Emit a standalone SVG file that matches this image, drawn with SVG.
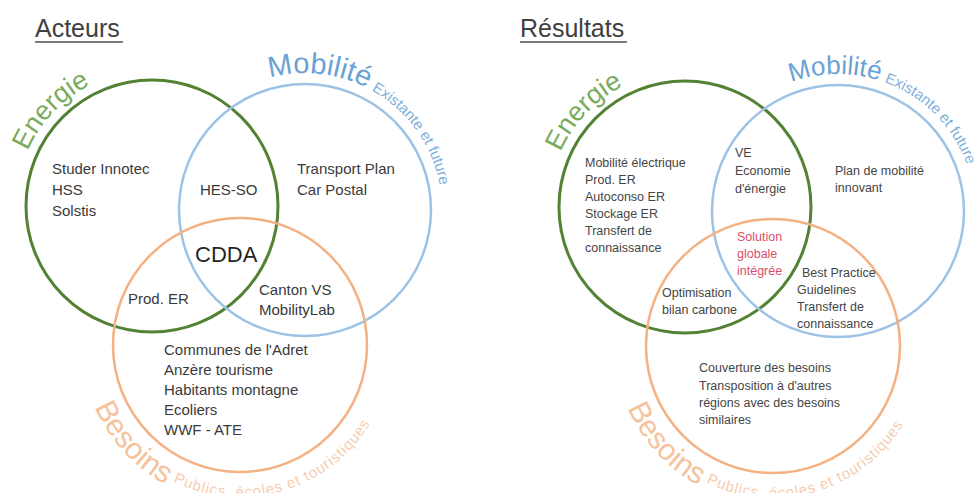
<svg xmlns="http://www.w3.org/2000/svg" width="976" height="493" viewBox="0 0 976 493">
<style>
text{font-family:"Liberation Sans",Arial,sans-serif;}
.title{font-size:25px;fill:#404040;}
.uline{stroke:#505050;stroke-width:1.5;}
.cg{fill:none;stroke:#548235;stroke-width:3;}
.cb{fill:none;stroke:#9cc2e5;stroke-width:2.5;}
.co{fill:none;stroke:#f4b183;stroke-width:2.5;}
.lg{fill:#7aab5c;font-size:27px;}
.lb{fill:#6aa2d4;font-size:29px;}
.lbs{fill:#7fb0da;font-size:15px;}
.lo{fill:#f6c29c;font-size:30px;}
.los{fill:#f7cdb0;font-size:15px;letter-spacing:1.2px;}
.t1{font-size:15px;fill:#3a3a3a;}
.t2{font-size:12.5px;fill:#454545;}
.red{fill:#d9506a;}
.cdda{font-size:22px;fill:#262626;}
</style>
<defs>
<path id="pE" d="M24.2,159.5 A136,136 0 0,1 220,88.2"/>
<path id="pM" d="M236.5,91.4 A137,137 0 0,1 439.9,233.8"/>
<path id="pB" d="M84.4,372.4 A158,158 0 0,0 395.6,372.4"/>
</defs>

<g id="acteurs">
  <g id="acteurs-title">
    <text class="title" x="35" y="37">Acteurs</text>
    <line class="uline" x1="35" y1="42" x2="123" y2="42"/>
  </g>
  <g id="a-energie">
    <circle class="cg" cx="152" cy="206" r="126"/>
    <text class="lg"><textPath href="#pE" startOffset="9">Energie</textPath></text>
  </g>
  <g id="a-mobilite">
    <circle class="cb" cx="305" cy="210" r="126"/>
    <text class="lb"><textPath href="#pM" startOffset="36">Mobilité<tspan class="lbs" dx="5">Existante et future</tspan></textPath></text>
  </g>
  <g id="a-besoins">
    <circle class="co" cx="240" cy="345" r="127"/>
    <text class="lo"><textPath href="#pB" startOffset="36">Besoins<tspan class="los" dx="6" dy="-6">Publics, écoles et touristiques</tspan></textPath></text>
  </g>
  <g id="a-energie-only">
    <text class="t1" x="52" y="174">Studer Innotec</text>
    <text class="t1" x="52" y="195">HSS</text>
    <text class="t1" x="52" y="216">Solstis</text>
  </g>
  <g id="a-energie-mobilite">
    <text class="t1" x="200" y="195">HES-SO</text>
  </g>
  <g id="a-mobilite-only">
    <text class="t1" x="297" y="174">Transport Plan</text>
    <text class="t1" x="297" y="195">Car Postal</text>
  </g>
  <g id="a-centre">
    <text class="cdda" x="195" y="262">CDDA</text>
  </g>
  <g id="a-energie-besoins">
    <text class="t1" x="128" y="304">Prod. ER</text>
  </g>
  <g id="a-mobilite-besoins">
    <text class="t1" x="259" y="295">Canton VS</text>
    <text class="t1" x="259" y="315">MobilityLab</text>
  </g>
  <g id="a-besoins-only">
    <text class="t1" x="164" y="355">Communes de l'Adret</text>
    <text class="t1" x="164" y="375">Anzère tourisme</text>
    <text class="t1" x="164" y="395">Habitants montagne</text>
    <text class="t1" x="164" y="415">Ecoliers</text>
    <text class="t1" x="164" y="435">WWF - ATE</text>
  </g>
</g>

<g id="resultats">
  <g id="resultats-title">
    <text class="title" x="520" y="37">Résultats</text>
    <line class="uline" x1="520" y1="42" x2="627" y2="42"/>
  </g>
  <g transform="translate(533,1)">
    <g id="r-energie">
      <circle class="cg" cx="152" cy="206" r="126"/>
      <text class="lg"><textPath href="#pE" startOffset="9">Energie</textPath></text>
    </g>
    <g id="r-mobilite">
      <circle class="cb" cx="305" cy="210" r="126"/>
      <text class="lb" style="font-size:26px"><textPath href="#pM" startOffset="24">Mobilité<tspan class="lbs" dx="5">Existante et future</tspan></textPath></text>
    </g>
    <g id="r-besoins">
      <circle class="co" cx="240" cy="345" r="127"/>
      <text class="lo"><textPath href="#pB" startOffset="36">Besoins<tspan class="los" dx="6" dy="-6">Publics, écoles et touristiques</tspan></textPath></text>
    </g>
  </g>
  <g id="r-energie-only">
    <text class="t2" x="585" y="167">Mobilité électrique</text>
    <text class="t2" x="585" y="184">Prod. ER</text>
    <text class="t2" x="585" y="201">Autoconso ER</text>
    <text class="t2" x="585" y="218">Stockage ER</text>
    <text class="t2" x="585" y="235">Transfert de</text>
    <text class="t2" x="585" y="252">connaissance</text>
  </g>
  <g id="r-energie-mobilite">
    <text class="t2" x="735" y="157">VE</text>
    <text class="t2" x="735" y="175">Economie</text>
    <text class="t2" x="735" y="193">d'énergie</text>
  </g>
  <g id="r-mobilite-only">
    <text class="t2" x="835" y="175">Plan de mobilité</text>
    <text class="t2" x="835" y="192">innovant</text>
  </g>
  <g id="r-centre">
    <text class="t2 red" x="737" y="241">Solution</text>
    <text class="t2 red" x="737" y="258">globale</text>
    <text class="t2 red" x="737" y="275">intégrée</text>
  </g>
  <g id="r-energie-besoins">
    <text class="t2" x="662" y="297">Optimisation</text>
    <text class="t2" x="662" y="314">bilan carbone</text>
  </g>
  <g id="r-mobilite-besoins">
    <text class="t2" x="802" y="277">Best Practice</text>
    <text class="t2" x="797" y="294">Guidelines</text>
    <text class="t2" x="797" y="311">Transfert de</text>
    <text class="t2" x="797" y="328">connaissance</text>
  </g>
  <g id="r-besoins-only">
    <text class="t2" x="699" y="372">Couverture des besoins</text>
    <text class="t2" x="699" y="390">Transposition à d'autres</text>
    <text class="t2" x="699" y="407">régions avec des besoins</text>
    <text class="t2" x="699" y="424">similaires</text>
  </g>
</g>
</svg>
